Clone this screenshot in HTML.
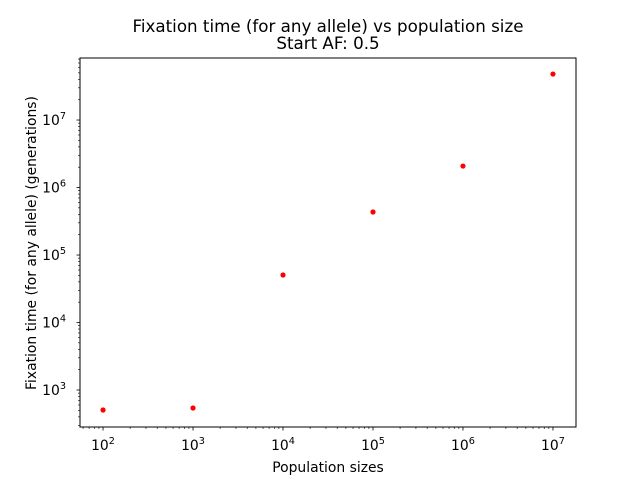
<!DOCTYPE html>
<html><head><meta charset="utf-8"><style>body{margin:0;background:#fff}svg{display:block}</style></head>
<body>
<svg id="chart" width="640" height="480" xmlns="http://www.w3.org/2000/svg" font-family="DejaVu Sans, Liberation Sans, sans-serif">
<text x="328" y="32" text-anchor="middle" font-size="16.7">Fixation time (for any allele) vs population size</text>
<text x="328" y="49" text-anchor="middle" font-size="16.7">Start AF: 0.5</text>
<g id="axes"></g>
<rect x="80" y="58" width="496" height="369" fill="none" stroke="#000" stroke-width="1"/>
<text x="328" y="472" font-size="13.9" text-anchor="middle">Population sizes</text>
<text transform="translate(36,243) rotate(-90)" font-size="13.9" text-anchor="middle">Fixation time (for any allele) (generations)</text>
</svg>
<script>
const popSizes = [1e2, 1e3, 1e4, 1e5, 1e6, 1e7];
const fixTimes = [506, 541, 50600, 434000, 2080000, 48000000];
const xTickExps = [2, 3, 4, 5, 6, 7];
const yTickExps = [3, 4, 5, 6, 7];
const X0=80, X1=576, Y0=58, Y1=427;
const xMin=1.744, xMax=7.256, yMin=2.452, yMax=7.919;
const xs = v => X0 + (Math.log10(v)-xMin)/(xMax-xMin)*(X1-X0);
const ys = v => Y1 - (Math.log10(v)-yMin)/(yMax-yMin)*(Y1-Y0);
const NS="http://www.w3.org/2000/svg";
const g=document.getElementById('axes');
function mk(t,a){const e=document.createElementNS(NS,t);for(const k in a)e.setAttribute(k,a[k]);g.appendChild(e);return e;}
for(let d=1;d<=7;d++)for(let m=2;m<=9;m++){const v=m*Math.pow(10,d);const p=xs(v);if(p<X0||p>X1)continue;
 const l=mk('line',{x1:p,x2:p,y1:Y1,y2:Y1+2,stroke:'#000','stroke-width':0.6});
 
 }
for(let d=2;d<=7;d++)for(let m=2;m<=9;m++){const v=m*Math.pow(10,d);const p=ys(v);if(p<Y0||p>Y1)continue;
 const l=mk('line',{x1:X0-2,x2:X0,y1:p,y2:p,stroke:'#000','stroke-width':0.6});
 
 }
xTickExps.forEach(e=>{const p=xs(Math.pow(10,e));
 const l=mk('line',{x1:p,x2:p,y1:Y1,y2:Y1+3.5,stroke:'#000','stroke-width':0.8});
 
 
 const t=mk('text',{x:p,y:450,'font-size':13.9,'text-anchor':'middle'});
 t.innerHTML='10<tspan font-size="9.7" dy="-6">'+e+'</tspan>';
 
 });
yTickExps.forEach(e=>{const p=ys(Math.pow(10,e));
 const l=mk('line',{x1:X0-3.5,x2:X0,y1:p,y2:p,stroke:'#000','stroke-width':0.8});
 
 
 const t=mk('text',{x:66,y:p+5,'font-size':13.9,'text-anchor':'end'});
 t.innerHTML='10<tspan font-size="9.7" dy="-6">'+e+'</tspan>';
 
 });
popSizes.forEach((n,i)=>{
 const c=mk('circle',{cx:xs(n),cy:ys(fixTimes[i]),r:2.6,fill:'#ff0000'});
 
 });
</script>
</body></html>
